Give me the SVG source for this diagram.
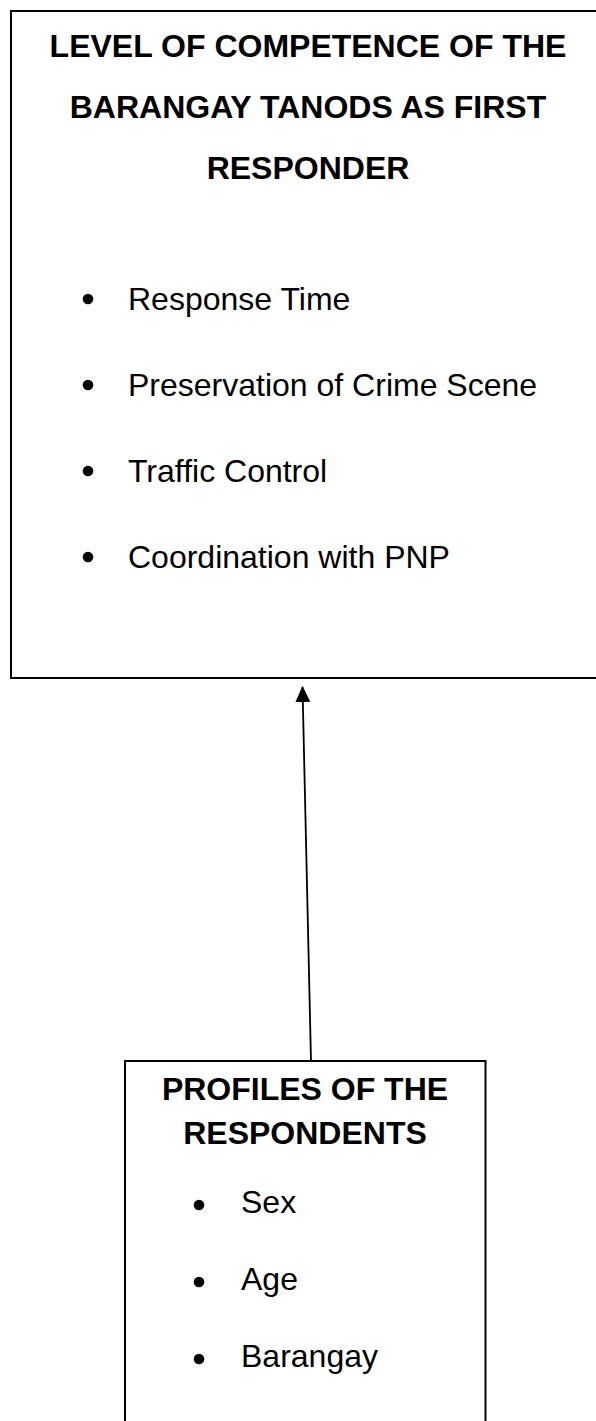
<svg xmlns="http://www.w3.org/2000/svg" width="596" height="1421" viewBox="0 0 596 1421">
<style>
.box{fill:#fff;stroke:#000;stroke-width:2}
.t{font-family:"Liberation Sans",Arial,sans-serif;font-size:32px;fill:#000}
.b{font-weight:bold;text-anchor:middle}
.conn{stroke:#000;stroke-width:1.8;fill:none}
.dot{fill:#000}
</style>
<defs>
<marker id="ah" markerUnits="userSpaceOnUse" markerWidth="16" markerHeight="16" viewBox="0 0 16 16" refX="15" refY="8" orient="auto">
<path d="M0,0.5 L16,8 L0,15.5 z" fill="#000"/>
</marker>
</defs>
<rect width="596" height="1421" fill="#fff"/>
<g id="competence">
<rect class="box" x="11" y="11" width="620" height="667"/>
<text class="t b" x="308" y="57">LEVEL OF COMPETENCE OF THE</text>
<text class="t b" x="308" y="118">BARANGAY TANODS AS FIRST</text>
<text class="t b" x="308" y="179">RESPONDER</text>
<circle class="dot" cx="88" cy="299" r="5.3"/>
<text class="t" x="128" y="310">Response Time</text>
<circle class="dot" cx="88" cy="385" r="5.3"/>
<text class="t" x="128" y="396">Preservation of Crime Scene</text>
<circle class="dot" cx="88" cy="471" r="5.3"/>
<text class="t" x="128" y="482">Traffic Control</text>
<circle class="dot" cx="88" cy="557" r="5.3"/>
<text class="t" x="128" y="568">Coordination with PNP</text>
</g>
<g id="profiles">
<rect class="box" x="125" y="1061" width="360.5" height="400"/>
<text class="t b" x="305" y="1100">PROFILES OF THE</text>
<text class="t b" x="305" y="1144">RESPONDENTS</text>
<circle class="dot" cx="199" cy="1205" r="5.3"/>
<text class="t" x="241" y="1213">Sex</text>
<circle class="dot" cx="199" cy="1282" r="5.3"/>
<text class="t" x="241" y="1290">Age</text>
<circle class="dot" cx="199" cy="1359" r="5.3"/>
<text class="t" x="241" y="1367">Barangay</text>
</g>
<g id="connectors">
<line class="conn" x1="311" y1="1061" x2="302.5" y2="687" marker-end="url(#ah)"/>
</g>
</svg>
